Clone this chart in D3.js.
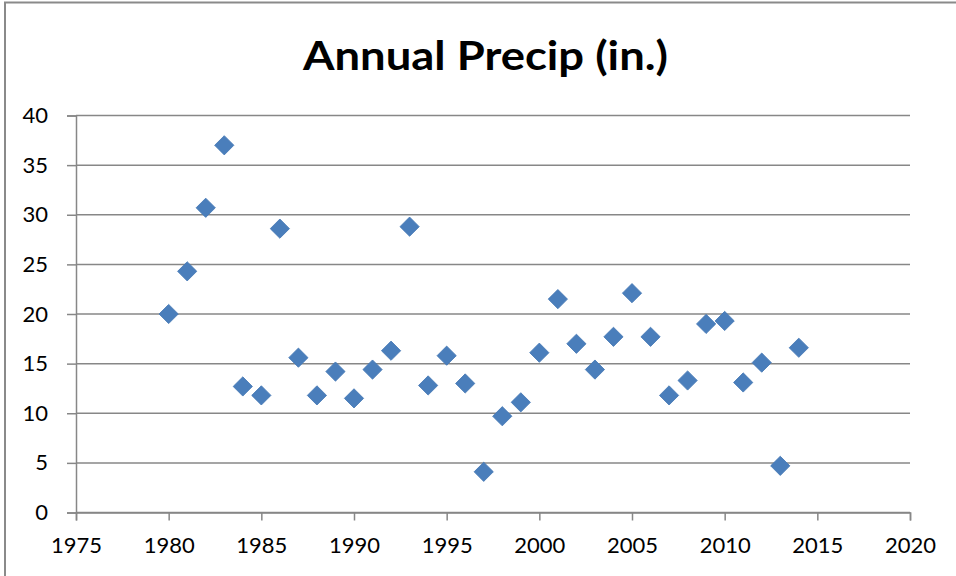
<!DOCTYPE html>
<html>
<head>
<meta charset="utf-8">
<script src="https://cdn.jsdelivr.net/npm/d3@7"></script>
<style>
  html, body { margin: 0; padding: 0; background: #ffffff; }
  svg { display: block; }
  text { font-family: Lato, "Open Sans", "Liberation Sans", sans-serif; fill: #000; }
</style>
</head>
<body>
<svg id="chart" width="956" height="576"></svg>
<script>
// Annual precipitation, inches per year
const years = [1980, 1981, 1982, 1983, 1984, 1985, 1986, 1987, 1988, 1989,
               1990, 1991, 1992, 1993, 1994, 1995, 1996, 1997, 1998, 1999,
               2000, 2001, 2002, 2003, 2004, 2005, 2006, 2007, 2008, 2009,
               2010, 2011, 2012, 2013, 2014];
const precip = [20.0, 24.3, 30.7, 37.0, 12.7, 11.8, 28.6, 15.6, 11.8, 14.2,
                11.5, 14.4, 16.3, 28.8, 12.8, 15.8, 13.0, 4.1, 9.7, 11.1,
                16.1, 21.5, 17.0, 14.4, 17.7, 22.1, 17.7, 11.8, 13.3, 19.0,
                19.3, 13.1, 15.1, 4.7, 16.6];
const xTicks = [1975, 1980, 1985, 1990, 1995, 2000, 2005, 2010, 2015, 2020];
const yTicks = [0, 5, 10, 15, 20, 25, 30, 35, 40];
const chartTitle = "Annual Precip (in.)";

const svg = d3.select("#chart");
const gridColor = "#878787";

// outer chart frame
svg.append("rect")
  .attr("x", 5).attr("y", 2.5)
  .attr("width", 1000).attr("height", 1000)
  .attr("fill", "#fff")
  .attr("stroke", "#8a8a8a").attr("stroke-width", 2);

const x = d3.scaleLinear().domain([1975, 2020]).range([76, 910]);
const y = d3.scaleLinear().domain([0, 40]).range([512.5, 115.5]);

// horizontal gridlines
svg.append("g")
  .selectAll("line")
  .data(yTicks)
  .join("line")
  .attr("x1", x(1975)).attr("x2", x(2020))
  .attr("y1", d => y(d)).attr("y2", d => y(d))
  .attr("stroke", gridColor).attr("stroke-width", 1.5);

// y axis
const yAxis = svg.append("g")
  .attr("transform", `translate(${x(1975)},0)`)
  .call(d3.axisLeft(y).tickValues(yTicks).tickSize(9).tickPadding(19).tickFormat(d3.format("d")));
yAxis.select(".domain").attr("stroke", gridColor).attr("stroke-width", 1.5);
yAxis.selectAll(".tick line").attr("stroke", gridColor).attr("stroke-width", 1.5);
yAxis.selectAll(".tick text").attr("font-size", 22).attr("font-family", null).attr("fill", "#000");

// x axis
const xAxis = svg.append("g")
  .attr("transform", `translate(0,${y(0)})`)
  .call(d3.axisBottom(x).tickValues(xTicks).tickSize(8).tickPadding(17).tickFormat(d3.format("d")));
xAxis.select(".domain").attr("stroke", gridColor).attr("stroke-width", 1.5);
xAxis.selectAll(".tick line").attr("stroke", gridColor).attr("stroke-width", 1.5);
xAxis.selectAll(".tick text").attr("font-size", 22).attr("font-family", null).attr("fill", "#000");

// diamond markers
const diamond = d3.symbol().type(d3.symbolSquare).size(185);
svg.append("g")
  .selectAll("path")
  .data(years.map((yr, i) => ({ yr, v: precip[i] })))
  .join("path")
  .attr("d", diamond)
  .attr("transform", d => `translate(${x(d.yr)},${y(d.v)}) rotate(45)`)
  .attr("fill", "#4a7ebb")
  .attr("stroke", "#4679b5").attr("stroke-width", 0.8);

// title
svg.append("text")
  .attr("x", 485.5).attr("y", 70)
  .attr("text-anchor", "middle")
  .attr("font-size", 40)
  .attr("font-weight", "bold")
  .attr("textLength", 365)
  .attr("lengthAdjust", "spacingAndGlyphs")
  .text(chartTitle);
</script>
</body>
</html>
